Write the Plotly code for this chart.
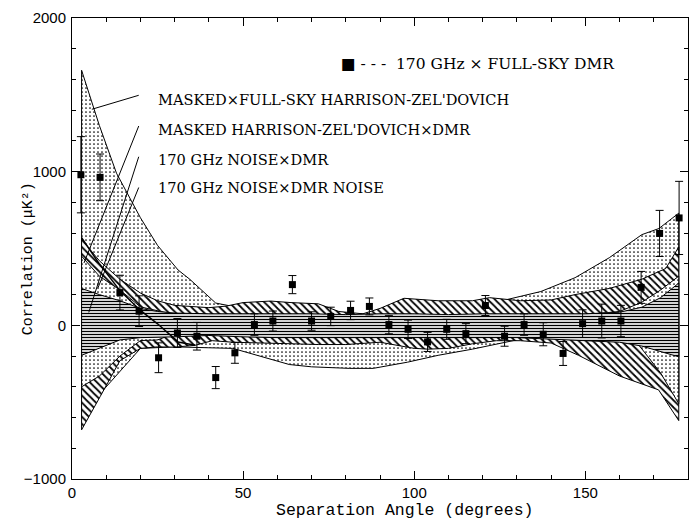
import plotly.graph_objects as go

# ---------------- data ----------------
# measured correlation points (170 GHz x full-sky DMR)
ang = [2.6, 8.2, 14.0, 19.6, 25.3, 30.8, 36.5, 42.0, 47.6, 53.3, 58.7, 64.4, 70.0, 75.6, 81.4, 86.9,
       92.6, 98.2, 103.9, 109.5, 115.1, 120.8, 126.4, 132.1, 137.7, 143.5, 149.2, 154.8, 160.4, 166.3, 171.7, 177.4]
corr = [980, 963, 213, 92, -211, -50, -71, -340, -179, 5, 28, 265, 28, 58, 97, 123,
        5, -26, -108, -26, -54, 129, -71, 5, -58, -183, 11, 28, 28, 247, 598, 699]
err = [248, 152, 113, 100, 97, 94, 90, 72, 68, 70, 65, 59, 60, 60, 60, 55,
       60, 60, 62, 65, 65, 65, 65, 70, 75, 78, 90, 110, 102, 104, 150, 238]

# band 1: MASKED x FULL-SKY Harrison-Zel'dovich (sparse dots)
d_up_x = [2.8, 8, 13, 20, 25, 31, 34.4, 37, 42, 50, 60, 70, 80, 90, 100, 110, 120, 128, 137, 147, 157, 166.5, 171.5, 177.3]
d_up = [1660, 1300, 990, 700, 520, 360, 300, 245, 145, 110, 110, 110, 70, 80, 120, 120, 130, 170, 220, 310, 440, 590, 630, 730]
d_lo_x = [2.8, 8, 14, 20, 30, 34.4, 40, 47, 54, 63.5, 70, 81, 88, 98, 107, 117, 131, 140, 150, 160, 170, 177.3]
d_lo = [-600, -450, -300, -150, -140, -142, -146, -150, -195, -255, -270, -280, -280, -240, -195, -155, -90, -95, -150, -250, -350, -500]

# band 2: MASKED Harrison-Zel'dovich x DMR (diagonal hatch)
h_up_x = [2.8, 8, 14, 20, 25, 30, 40, 45, 50, 58, 64, 72, 78, 85, 90, 97, 107, 117, 122, 131, 140, 147, 157, 166.5, 173.5, 177.3]
h_up = [560, 420, 300, 210, 160, 130, 115, 125, 148, 158, 148, 140, 90, 75, 110, 176, 160, 160, 180, 160, 165, 200, 240, 300, 370, 510]
h_lo_x = [2.8, 8.2, 14, 20, 25, 30, 36, 41, 47, 55, 64, 72, 80, 90, 100, 104, 110, 117, 124, 131, 140, 148, 160, 171.4, 177.3]
h_lo = [-680, -465, -230, -150, -140, -142, -130, -100, -110, -115, -120, -125, -125, -110, -150, -155, -150, -120, -100, -100, -115, -195, -330, -420, -620]

# band 3: 170 GHz NOISE x DMR (dots)
n_up_x = [2.8, 8, 14, 20, 30, 60, 100, 140, 160, 166.5, 172, 177.3]
n_up = [450, 320, 230, 120, 70, 50, 50, 50, 90, 150, 230, 320]
n_lo_x = [2.8, 8, 14, 20, 25, 28, 60, 100, 140, 160, 165, 172, 177.3]
n_lo = [-400, -330, -200, -99, -95, -70, -50, -50, -60, -90, -110, -310, -510]

# band 4: 170 GHz NOISE x DMR NOISE (horizontal lines)
nn_x = [2.8, 8, 14, 20, 25, 30, 40, 50, 60, 70, 80, 90, 100, 110, 120, 130, 140, 150, 160, 166.5, 172, 177.3]
nn_up = [240, 200, 160, 110, 90, 80, 75, 75, 75, 75, 70, 75, 75, 70, 75, 75, 75, 75, 85, 118, 180, 275]
nn_lo = [-195, -150, -95, -80, -78, -75, -66, -75, -80, -80, -80, -80, -80, -80, -80, -80, -90, -100, -110, -135, -170, -205]

# solid curve on the left
m_x = [2.8, 8, 14, 20, 25, 31, 36]
m_y = [570, 400, 226, 97, 10, -108, -130]

# leader lines from labels (x in degrees, y in uK^2)
lead_x0 = [19.5, 19.5, 19.5, 19.5]
lead_y0 = [1497, 1297, 1097, 897]
lead_x1 = [5.8, 3.5, 4.9, 7.6]
lead_y1 = [1406, 406, 84, 245]

labels = ["MASKED×FULL-SKY HARRISON-ZEL'DOVICH",
          "MASKED HARRISON-ZEL'DOVICH×DMR",
          "170 GHz NOISE×DMR",
          "170 GHz NOISE×DMR NOISE"]
label_y = [1470, 1275, 1080, 900]

fig = go.Figure()


def band(xu, yu, xl, yl, shape, size, solidity):
    xs = list(xu) + list(reversed(xl)) + [xu[0]]
    ys = list(yu) + list(reversed(yl)) + [yu[0]]
    fig.add_trace(go.Scatter(
        x=xs, y=ys, mode="lines", fill="toself",
        line=dict(color="black", width=1),
        fillcolor="white",
        fillpattern=dict(shape=shape, size=size, solidity=solidity,
                         fgcolor="black", bgcolor="white", fillmode="replace"),
        hoverinfo="skip", showlegend=False))


band(d_up_x, d_up, d_lo_x, d_lo, ".", 4, 0.14)
band(h_up_x, h_up, h_lo_x, h_lo, "\\", 5, 0.35)
band(n_up_x, n_up, n_lo_x, n_lo, ".", 4, 0.14)
band(nn_x, nn_up, nn_x, nn_lo, "-", 3, 0.45)

fig.add_trace(go.Scatter(x=m_x, y=m_y, mode="lines", line=dict(color="black", width=1.5),
                         hoverinfo="skip", showlegend=False))

for a, b, c, d in zip(lead_x0, lead_y0, lead_x1, lead_y1):
    fig.add_trace(go.Scatter(x=[a, c], y=[b, d], mode="lines", line=dict(color="black", width=1),
                             hoverinfo="skip", showlegend=False))

fig.add_trace(go.Scatter(
    x=ang, y=corr, mode="markers",
    marker=dict(symbol="square", size=7, color="black"),
    error_y=dict(type="data", array=err, visible=True, color="black", thickness=1, width=4),
    showlegend=False))

for t, yy in zip(labels, label_y):
    fig.add_annotation(x=24.5, y=yy, xref="x", yref="y", text=t, showarrow=False,
                       xanchor="left", yanchor="middle",
                       font=dict(family="DejaVu Serif", size=14.6, color="black"))

fig.add_annotation(x=78, y=1700, xref="x", yref="y", text="■ - - -  170 GHz × FULL-SKY DMR",
                   showarrow=False, xanchor="left", yanchor="middle",
                   font=dict(family="DejaVu Serif", size=15.5, color="black"))

# axis titles placed as text
fig.add_annotation(x=-0.071, y=0.477, xref="paper", yref="paper", text="Correlation (μK²)",
                   textangle=-90, showarrow=False, xanchor="center", yanchor="middle",
                   font=dict(family="Liberation Mono", size=15, color="black"))
fig.add_annotation(x=0.54, y=-0.068, xref="paper", yref="paper", text="Separation Angle (degrees)",
                   showarrow=False, xanchor="center", yanchor="middle",
                   font=dict(family="Liberation Mono", size=16.5, color="black"))

axis_common = dict(showline=True, linecolor="black", linewidth=1, mirror="ticks",
                   ticks="inside", tickcolor="black", ticklen=8, showgrid=False, zeroline=False,
                   tickfont=dict(family="Liberation Sans", size=15, color="black"))

fig.update_xaxes(range=[0, 180], tick0=0, dtick=50, ticklabelstandoff=0,
                 minor=dict(dtick=10, ticklen=4, ticks="inside", tickcolor="black"),
                 **axis_common)
fig.update_yaxes(range=[-1000, 2000], tick0=0, dtick=1000, ticklabelstandoff=2,
                 minor=dict(dtick=200, ticklen=4, ticks="inside", tickcolor="black"),
                 **axis_common)

fig.update_layout(width=698, height=520, margin=dict(l=72, r=9, t=15, b=41),
                  plot_bgcolor="white", paper_bgcolor="white", showlegend=False)

fig.write_html("out.html")
